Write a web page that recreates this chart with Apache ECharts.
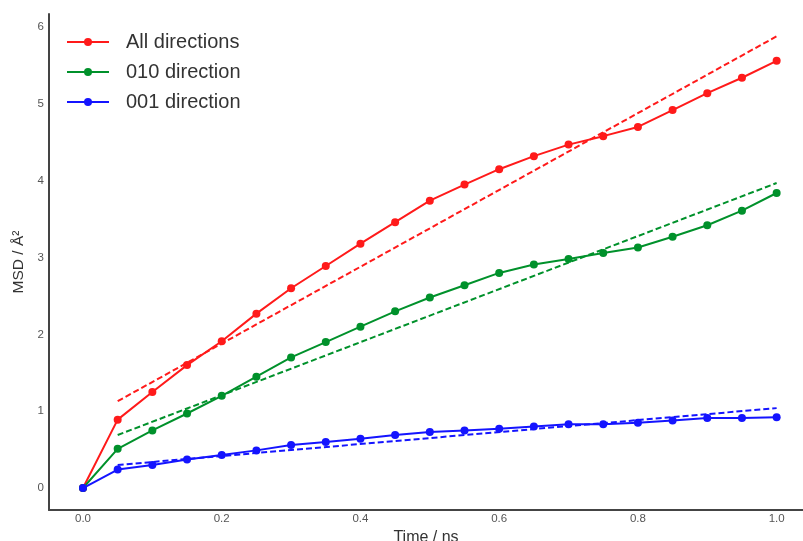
<!DOCTYPE html>
<html>
<head>
<meta charset="utf-8">
<script src="https://cdn.jsdelivr.net/npm/echarts@6/dist/echarts.min.js"></script>
<style>
  html, body { margin: 0; padding: 0; background: #fff; }
  #chart { width: 803px; height: 541px; }
</style>
</head>
<body>
<div id="chart"></div>
<script>
// time points (ns)
const times = [0, 0.05, 0.1, 0.15, 0.2, 0.25, 0.3, 0.35, 0.4, 0.45, 0.5,
  0.55, 0.6, 0.65, 0.7, 0.75, 0.8, 0.85, 0.9, 0.95, 1.0]

const allDir = [0, 0.89, 1.25, 1.60, 1.91, 2.27, 2.60, 2.89, 3.18, 3.46, 3.74,
  3.95, 4.15, 4.32, 4.47, 4.58, 4.70, 4.92, 5.14, 5.34, 5.56]
const dir010 = [0, 0.51, 0.75, 0.97, 1.20, 1.45, 1.70, 1.90, 2.10, 2.30, 2.48,
  2.64, 2.80, 2.91, 2.98, 3.06, 3.13, 3.27, 3.42, 3.61, 3.84]
const dir001 = [0, 0.24, 0.30, 0.37, 0.43, 0.49, 0.56, 0.60, 0.64, 0.69, 0.73,
  0.75, 0.77, 0.80, 0.83, 0.83, 0.85, 0.88, 0.91, 0.91, 0.92]

// linear fits, drawn from t = 0.05 to t = 1.0
const fitTimes = [0.05, 1.0]
const fitAll = [1.13, 5.88]
const fit010 = [0.69, 3.97]
const fit001 = [0.30, 1.04]

const names = ['All directions', '010 direction', '001 direction']
const colors = ['#ff1a1a', '#00912b', '#1414ff']

const xTicks = [0, 0.2, 0.4, 0.6, 0.8, 1.0]
const yTicks = [0, 1, 2, 3, 4, 5, 6]

function pairs(xs, ys) {
  return xs.map(function (x, i) { return [x, ys[i]] })
}

var chartDom = document.getElementById('chart');
var myChart = echarts.init(chartDom);

const lineSets = [allDir, dir010, dir001]
const fitSets = [fitAll, fit010, fit001]

var series = [];
fitSets.forEach(function (f, i) {
  series.push({
    name: names[i] + ' fit',
    type: 'line',
    data: pairs(fitTimes, f),
    symbol: 'none',
    silent: true,
    lineStyle: { color: colors[i], width: 2, type: [6, 3] },
    z: 1
  })
})
lineSets.forEach(function (d, i) {
  series.push({
    name: names[i],
    type: 'line',
    data: pairs(times, d),
    symbol: 'circle',
    symbolSize: 8,
    itemStyle: { color: colors[i] },
    lineStyle: { color: colors[i], width: 2 },
    z: 2
  })
})

var option = {
  animation: false,
  textStyle: { fontFamily: 'Liberation Sans, Arial, sans-serif' },
  grid: { left: 49, right: 0, top: 14, bottom: 31, outerBoundsMode: 'none' },
  legend: {
    data: names,
    orient: 'vertical',
    left: 61,
    top: 27,
    itemWidth: 42,
    itemHeight: 10,
    itemGap: 10,
    textStyle: { fontSize: 20, color: '#333', padding: [0, 0, 0, 12] }
  },
  xAxis: {
    type: 'value',
    min: -0.049,
    max: 1.038,
    name: 'Time / ns',
    nameLocation: 'middle',
    nameGap: 18,
    nameTextStyle: { fontSize: 16, color: '#333' },
    axisLine: { onZero: false, lineStyle: { color: '#444', width: 2 } },
    axisTick: { show: false },
    splitLine: { show: false },
    axisLabel: {
      customValues: xTicks,
      fontSize: 11.5,
      color: '#555',
      margin: 3,
      formatter: function (v) { return v.toFixed(1) }
    }
  },
  yAxis: {
    type: 'value',
    min: -0.286,
    max: 6.17,
    name: 'MSD / Å²',
    nameLocation: 'middle',
    nameGap: 10,
    nameTextStyle: { fontSize: 15.5, color: '#333' },
    axisLine: { show: true, onZero: false, lineStyle: { color: '#444', width: 2 } },
    axisTick: { show: false },
    splitLine: { show: false },
    axisLabel: {
      customValues: yTicks,
      fontSize: 11.5,
      color: '#555',
      margin: 5
    }
  },
  series: series
};

option && myChart.setOption(option);
</script>
</body>
</html>
